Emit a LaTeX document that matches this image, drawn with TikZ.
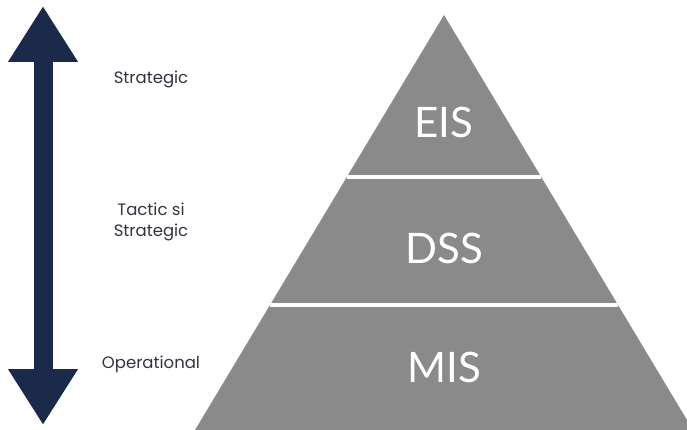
\documentclass[tikz,border=0pt]{standalone}
\usepackage{fontspec}
\setmainfont{Lato}
\newfontfamily\lvlfont{Poppins}
\usepackage{xcolor}
\usetikzlibrary{arrows.meta,positioning,calc}
\definecolor{navy}{HTML}{1B2A4A}
\definecolor{tiergray}{HTML}{8A8A8A}
\definecolor{labelgray}{HTML}{2E3440}
\begin{document}
\begin{tikzpicture}[
  x=1pt, y=-1pt,
  lvl/.style={text=labelgray, align=center, font=\lvlfont\fontsize{16.5}{21}\selectfont},
  tier/.style={text=white, font=\fontsize{42}{46}\selectfont},
  sep/.style={white, line width=4pt},
  bigarr/.style={navy, line width=19pt, {Triangle[width=66pt,length=56pt]}-{Triangle[width=66pt,length=56pt]}},
]
\useasboundingbox (0,0) rectangle (687,430);
% scale arrow
\coordinate (top) at (43,6);
\coordinate (bot) at (43,425);
\draw[bigarr] (top) -- (bot);
\node[lvl] (strat) at (151,79) {Strategic};
\node[lvl] (tact) at (151,222) {Tactic si\\Strategic};
\node[lvl] (oper) at (151,364) {Operational};
% pyramid
\coordinate (apex) at (444,15);
\coordinate (bl) at (195,430);
\coordinate (br) at (693,430);
\fill[tiergray] (apex) -- (bl) -- (br) -- cycle;
\draw[sep] ($(apex)!0.39!(bl)$) -- ($(apex)!0.39!(br)$);
\draw[sep] ($(apex)!0.699!(bl)$) -- ($(apex)!0.699!(br)$);
\node[tier] (eis) at (444,122) {EIS};
\node[tier] (dss) at (444,248) {DSS};
\node[tier] (mis) at (444,367) {MIS};
\end{tikzpicture}
\end{document}
